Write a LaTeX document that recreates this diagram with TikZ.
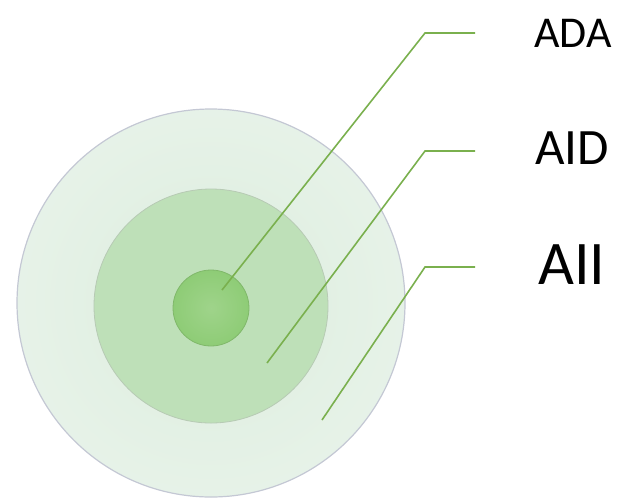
\documentclass[tikz,border=0pt]{standalone}
\usepackage{fontspec}
\setmainfont{Carlito}
\usetikzlibrary{positioning}
\definecolor{ringout}{RGB}{220,237,222}
\definecolor{ringmid}{RGB}{190,224,184}
\definecolor{core}{RGB}{142,204,118}
\definecolor{leader}{RGB}{122,176,78}
\definecolor{rim}{RGB}{196,200,212}

\begin{document}
\begin{tikzpicture}[x=0.5pt, y=-0.5pt,
  disc/.style={circle, inner sep=0pt},
  lead/.style={draw=leader, line width=0.8pt},
  tag/.style={anchor=center, text=black}]
  \useasboundingbox (0,0) rectangle (617,500);
  % nested discs
  \node[disc, minimum size=194pt, draw=rim, line width=0.6pt,
        inner color=ringout, outer color=ringout!70!white] (outer) at (211,303) {};
  \node[disc, minimum size=117pt, draw=ringmid!80!black!70, line width=0.4pt,
        fill=ringmid] (mid) at (211,306) {};
  \node[disc, minimum size=38pt, draw=core!90!black, line width=0.4pt,
        inner color=core!85!white, outer color=core] (inner) at (211,308) {};
  % labels
  \node[tag, font=\fontsize{22}{24}\selectfont] (ada) at (573,33) {ADA};
  \node[tag, font=\fontsize{25.5}{28}\selectfont] (aid) at (572,148) {AID};
  \node[tag, font=\fontsize{31}{34}\selectfont] (aii) at (572,265) {AII};
  % leader lines
  \coordinate (pada) at (222,290);
  \coordinate (kada) at (425,33);
  \coordinate (eada) at (475,33);
  \coordinate (paid) at (267,363);
  \coordinate (kaid) at (425,151);
  \coordinate (eaid) at (475,151);
  \coordinate (paii) at (322,420);
  \coordinate (kaii) at (425,267);
  \coordinate (eaii) at (475,267);
  \draw[lead] (pada) -- (kada) -- (eada);
  \draw[lead] (paid) -- (kaid) -- (eaid);
  \draw[lead] (paii) -- (kaii) -- (eaii);
\end{tikzpicture}
\end{document}
